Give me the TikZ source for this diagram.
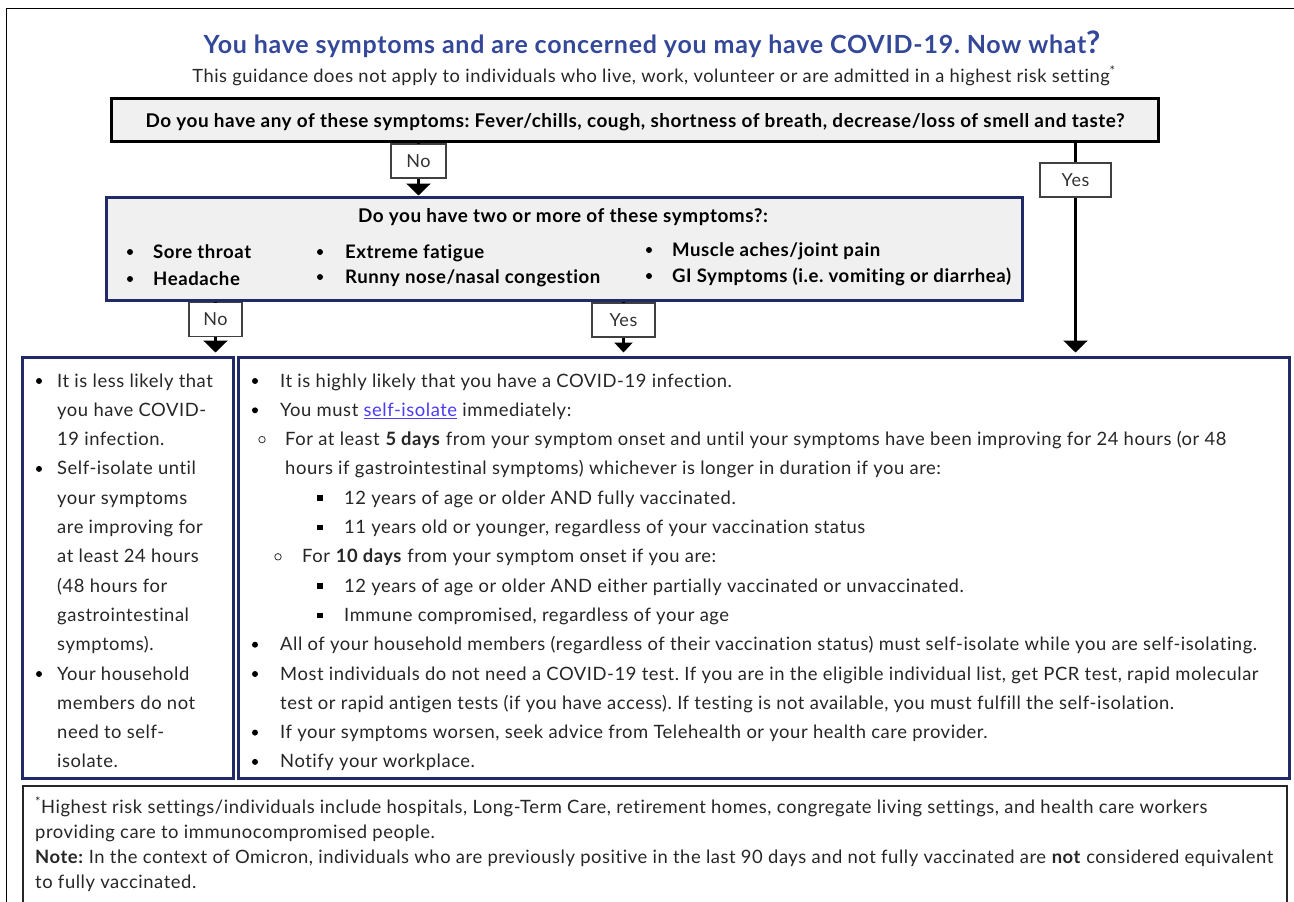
\documentclass[tikz,border=0pt]{standalone}
\usepackage{fontspec}
\setmainfont{Lato}[LetterSpace=3,Ligatures=NoCommon]
\frenchspacing
\usetikzlibrary{arrows.meta,fit}

\definecolor{titleblue}{HTML}{34489A}
\definecolor{navy}{HTML}{1F2A66}
\definecolor{boxgray}{HTML}{F0F0F0}
\definecolor{txtgray}{HTML}{262626}
\definecolor{linkblue}{HTML}{4B3BF5}

\newcommand{\bodyfont}{\fontsize{18.4}{20}\selectfont}
\newcommand{\askfont}{\fontsize{18.9}{22}\bfseries\selectfont}

\begin{document}
\begin{tikzpicture}[x=1pt,y=-1pt,
    txt/.style={anchor=base west,inner sep=0,text=txtgray,font=\bodyfont},
    asktxt/.style={anchor=base west,inner sep=0,text=black,font=\fontsize{18.6}{22}\bfseries\selectfont},
    qbox/.style={draw=black,line width=3pt,fill=boxgray,inner sep=0},
    nbox/.style={draw=navy,line width=3pt,inner sep=0},
    ansbox/.style={draw=black!75,line width=1.3pt,fill=white,inner sep=0,minimum height=34pt,
      text=black!80,font=\fontsize{18}{20}\selectfont},
    flow/.style={line width=2.5pt,-{Triangle[width=24pt,length=12pt]}},
    dot/.style={circle,fill=black,inner sep=0,minimum size=6pt},
    odot/.style={circle,draw=black!80,line width=0.8pt,inner sep=0,minimum size=6.5pt},
    sdot/.style={rectangle,fill=black,inner sep=0,minimum size=5.5pt}]

\useasboundingbox (0,0) rectangle (1294,902);
\fill[white] (0,0) rectangle (1294,902);

% page frame
\draw[line width=0.8pt] (6.5,902) -- (6.5,8) -- (1294,8);

% heading
\node[anchor=base,inner sep=0,text=titleblue,font=\fontsize{25}{28}\bfseries\selectfont] (title) at (652,53)
  {You have symptoms and are concerned you may have COVID-19. Now what{\fontsize{31}{31}\selectfont ?}};
\node[anchor=base,inner sep=0,text=txtgray,font=\fontsize{18.3}{20}\selectfont] (subtitle) at (654,82)
  {This guidance does not apply to individuals who live, work, volunteer or are admitted in a highest risk setting\textsuperscript{*}};

% first question
\node[qbox,fit={(111,98) (1158,141)}] (q1) {};
\node[anchor=base,inner sep=0,font=\askfont] (q1t) at (635,127)
  {Do you have any of these symptoms: Fever/chills, cough, shortness of breath, decrease/loss of smell and taste?};

% second question
\node[qbox,draw=navy,fit={(106,197) (1022,300)}] (q2) {};
\node[anchor=base,inner sep=0,font=\askfont] (q2t) at (563,222) {Do you have two or more of these symptoms?:};
\node[asktxt] (s1) at (153,258) {Sore throat};
\node[asktxt] (s2) at (153,285) {Headache};
\node[asktxt] (s3) at (345,258) {Extreme fatigue};
\node[asktxt] (s4) at (345,283) {Runny nose/nasal congestion};
\node[asktxt] (s5) at (672,256) {Muscle aches/joint pain};
\node[asktxt] (s6) at (672,282) {GI Symptoms (i.e. vomiting or diarrhea)};
\foreach \n/\x/\y in {a/130/258,b/130/285,c/320/258,d/320/283,e/649/256,f/649/282}
  \node[dot] (sd\n) at (\x,\y-6) {};

% answer boxes
\node[ansbox,minimum width=55pt] (no1) at (418.5,161) {No};
\node[ansbox,minimum width=71pt] (yes1) at (1075.5,180) {Yes};
\node[ansbox,minimum width=53pt] (no2) at (215.5,319.5) {No};
\node[ansbox,minimum width=63pt] (yes2) at (623.5,320) {Yes};

% outcome boxes
\node[nbox,fit={(22.5,357) (233,778)}] (less) {};
\node[nbox,fit={(238.5,357) (1289,778)}] (likely) {};
\node[draw=black!85,line width=2pt,inner sep=0,fit={(22.5,786) (1287,920)}] (note) {};

% connectors
\draw[line width=2.5pt] (q1.south -| no1) -- (no1.north);
\draw[flow] (no1.south) -- (q2.north -| no1);
\draw[line width=2.5pt] (q1.south -| yes1) -- (yes1.north);
\draw[flow] (yes1.south) -- ([yshift=3pt]likely.north -| yes1);
\draw[line width=2.5pt] (q2.south -| no2) -- (no2.north);
\draw[flow] (no2.south) -- ([yshift=3pt]less.north -| no2);
\draw[line width=2.5pt] (q2.south -| yes2) -- (yes2.north);
\draw[flow,-{Triangle[width=18pt,length=10pt]}] (yes2.south) -- ([yshift=3pt]likely.north -| yes2);

% less likely
\foreach \t [count=\i from 0] in {It is less likely that,you have COVID-,19 infection.,Self-isolate until,
    your symptoms,are improving for,at least 24 hours,{(48 hours for},gastrointestinal,{symptoms).},
    Your household,members do not,need to self-,isolate.}
  \node[txt] (l\i) at (57,{387+29.3*\i}) {\t};
\foreach \i in {0,3,10}
  \node[dot] (ld\i) at (39,{381+29.3*\i}) {};

% highly likely
\node[txt] (r0) at (280,387) {It is highly likely that you have a COVID-19 infection.};
\node[txt] (r1) at (280,416.3) {You must {\color{linkblue}\underline{self-isolate}} immediately:};
\node[txt] (r2) at (285,445.6) {For at least \textbf{5 days} from your symptom onset and until your symptoms have been improving for 24 hours (or 48};
\node[txt] (r3) at (285,474.9) {hours if gastrointestinal symptoms) whichever is longer in duration if you are:};
\node[txt] (r4) at (344,504.2) {12 years of age or older AND fully vaccinated.};
\node[txt] (r5) at (344,533.5) {11 years old or younger, regardless of your vaccination status};
\node[txt] (r6) at (302,562.8) {For \textbf{10 days} from your symptom onset if you are:};
\node[txt] (r7) at (344,592.1) {12 years of age or older AND either partially vaccinated or unvaccinated.};
\node[txt] (r8) at (344,621.4) {Immune compromised, regardless of your age};
\node[txt] (r9) at (280,650.7) {All of your household members (regardless of their vaccination status) must self-isolate while you are self-isolating.};
\node[txt] (r10) at (280,680) {Most individuals do not need a COVID-19 test. If you are in the eligible individual list, get PCR test, rapid molecular};
\node[txt] (r11) at (280,709.3) {test or rapid antigen tests (if you have access). If testing is not available, you must fulfill the self-isolation.};
\node[txt] (r12) at (280,738.6) {If your symptoms worsen, seek advice from Telehealth or your health care provider.};
\node[txt] (r13) at (280,767.9) {Notify your workplace.};
\foreach \i in {0,1,9,10,12,13}
  \node[dot] (rd\i) at (255,{381+29.3*\i}) {};
\node[odot] (ro2) at (262,{381+29.3*2}) {};
\node[odot] (ro6) at (278,{381+29.3*6}) {};
\foreach \i in {4,5,7,8}
  \node[sdot] (rs\i) at (320,{381+29.3*\i}) {};

% footnote
\node[txt] (n0) at (35,813) {\textsuperscript{*}Highest risk settings/individuals include hospitals, Long-Term Care, retirement homes, congregate living settings, and health care workers};
\node[txt] (n1) at (35,838) {providing care to immunocompromised people.};
\node[txt] (n2) at (35,863) {\textbf{Note:} In the context of Omicron, individuals who are previously positive in the last 90 days and not fully vaccinated are \textbf{not} considered equivalent};
\node[txt] (n3) at (35,888) {to fully vaccinated.};

\end{tikzpicture}
\end{document}
